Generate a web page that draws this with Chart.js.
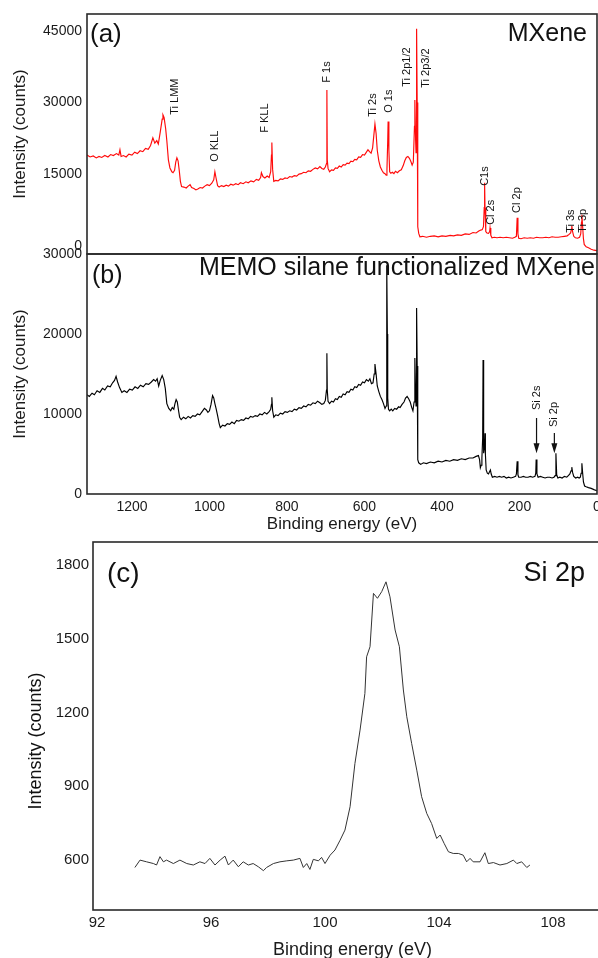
<!DOCTYPE html>
<html><head><meta charset="utf-8">
<script src="https://cdn.jsdelivr.net/npm/chart.js@4.4.1/dist/chart.umd.min.js"></script>
<style>
html,body{margin:0;padding:0;background:#fff;overflow:hidden;width:598px;height:958px;}
.wrap{position:absolute;left:0;}
canvas{display:block;}
</style></head><body>
<div class="wrap" style="top:0;"><canvas id="ca" width="598" height="256"></canvas></div>
<div class="wrap" style="top:244px;"><canvas id="cb" width="620" height="294"></canvas></div>
<div class="wrap" style="top:530px;"><canvas id="cc" width="640" height="440"></canvas></div>
<script>
// ---------- (a) MXene survey ----------
const energyA = [
1316,1308,1300,1292,1285,1278,1270,1262,1255,1248,
1240,1234,1231,1228,1222,1215,1208,1200,1193,1186,
1179,1172,1165,1158,1152,1146,1141,1136,1132,1127,
1122,1120,1117,1113,1110,1106,1102,1097,1094,1090,
1087,1084,1081,1078,1075,1072,1066,1060,1055,1050,
1046,1040,1035,1030,1024,1018,1012,1006,1000,994,
989,986,983,979,975,969,963,957,951,945,
939,932,926,920,913,906,900,893,886,879,
873,868,866,862,857,851,846,842,840,839,
837,834,829,823,817,811,805,799,793,787,
781,775,769,763,757,751,745,739,733,727,
721,715,710,705,701,698,697,696,694,690,
685,680,675,670,665,660,655,650,645,640,
635,630,625,620,615,610,605,600,595,591,
587,583,579,576,573,570,567,563,559,555,
551,547,544,542,540,539,537,535,532,528,
524,520,515,510,505,500,496,492,488,484,
480,477,474,471,470,468,467,466,465,464,
463,462,460,457,450,440,430,420,410,400,
390,379,370,360,350,340,330,320,312,305,
300,296,293,291,290,289,287,284,280,277,
276,274,271,265,258,250,242,234,226,218,
212,208,206,204,202,196,188,180,172,164,
156,148,140,132,124,116,108,100,92,84,
77,72,68,66,65,63,60,56,50,45,
42,40,39,37,35,33,28,22,15,8,
0];
const countsA = [
19000,18600,18800,18400,18700,18500,18900,18600,19100,18900,
19300,19000,20100,18700,18900,18600,19200,19000,19600,19300,
19900,19700,20400,20200,21000,22600,21500,22000,21300,23800,
26500,27400,26800,24500,22000,18000,16300,15500,15300,15800,
17500,18400,17800,15800,13500,12400,12300,12100,12500,12800,
12200,12000,11700,11900,12200,12100,12500,12800,12600,13100,
13800,15500,14200,12600,12300,12600,12400,12700,12500,12900,
12700,13000,12800,13200,13000,13400,13200,13600,13400,13900,
13700,14300,15300,14500,14200,14600,14300,15500,19000,21600,
16000,13500,13700,13600,14000,13900,14200,14100,14500,14400,
14700,14600,15000,15100,15400,15300,15700,15600,16000,16300,
16100,16600,16200,16000,16500,17200,32600,18000,16200,15500,
15900,15800,16300,16200,16700,16500,17000,16900,17300,17200,
17700,17600,18100,18000,18600,18500,19100,19000,19600,20100,
19700,19400,20500,23000,25500,23500,20000,17800,16500,15800,
15300,15100,14800,16000,22000,26000,20000,15500,15200,15400,
15100,15600,15300,15700,15900,16800,17800,18500,18700,18300,
17600,16900,17500,25000,30500,22000,19500,30000,45400,30000,
12000,4000,2600,1900,2000,1800,2000,2100,1900,2100,
2000,2200,2100,2300,2200,2500,2400,2800,2700,3100,
3300,3400,4000,8000,13200,8000,3000,2700,2600,3000,
3750,2200,1700,1800,1700,1800,1700,1800,1700,1600,
1800,2000,5900,2500,1600,1500,1700,1600,1700,1600,
1800,1700,1700,1800,1700,1900,1800,1800,1900,2000,
2100,2400,2700,3500,4200,3000,2000,1700,1600,1800,
2500,5000,6500,4000,1500,300,-200,-400,-700,-900,
-1000];

// ---------- (b) MEMO silane functionalized MXene survey ----------
const energyB = [
1316,1310,1303,1297,1290,1283,1276,1270,1263,1256,
1250,1245,1241,1237,1232,1226,1220,1213,1206,1199,
1192,1185,1178,1171,1164,1157,1150,1144,1139,1135,
1131,1127,1122,1118,1114,1110,1105,1100,1096,1092,
1089,1086,1083,1080,1077,1073,1067,1061,1055,1049,
1043,1037,1031,1025,1019,1013,1008,1004,1000,996,
992,989,986,983,979,975,972,966,960,954,
948,942,936,930,924,918,912,906,900,894,
888,882,876,870,864,858,852,846,842,840,
839,837,834,829,823,817,811,805,799,793,
787,781,775,769,763,757,751,745,739,733,
727,721,715,710,705,701,698,697,696,694,
690,685,680,675,670,665,660,655,650,645,
640,635,630,625,620,615,610,605,600,595,
590,586,582,578,575,573,570,567,563,559,
555,551,547,544,543,542,541,540,538,535,
531,527,522,517,512,508,503,498,494,490,
486,482,478,475,472,470,468,467,466,465,
464,463,462,460,455,448,440,430,420,410,
400,390,380,370,360,350,340,330,320,312,
306,303,301,299,297,295,294,293,292,290,
289,288,286,283,280,277,275,273,270,264,
258,252,246,240,234,228,222,216,210,208,
206,204,202,196,190,184,178,172,166,160,
158,157,155,152,146,140,134,128,122,116,
111,108,106,104,101,96,90,84,78,74,
70,67,65,63,60,55,50,46,43,41,
39,37,35,32,28,22,15,8,0];
const countsB = [
12400,12200,12600,12400,12900,12700,13200,13000,13500,13400,
13900,14200,14700,14000,13300,12700,12900,12700,13100,13000,
13400,13200,13600,13400,13800,13700,14000,14300,14100,14400,
13500,14200,14800,14300,13200,11300,10700,10400,10800,10600,
11300,11800,11500,10500,9600,9300,9600,9400,9700,9500,
9800,9700,10000,9900,10300,10700,10500,10200,10400,11200,
12300,12000,11300,10700,9800,8800,8300,8600,8500,8800,
8700,9000,8800,9200,9100,9300,9200,9500,9400,9700,
9600,9800,9700,10000,9900,10200,10000,10300,10600,11200,
12100,10400,9600,9900,9800,10100,10000,10300,10200,10400,
10300,10600,10500,10800,10700,11000,10900,11200,11100,11400,
11300,11600,11400,11200,11300,11700,13000,17600,13000,11600,
11300,11600,11500,11900,11800,12200,12100,12500,12400,12800,
12700,13100,13000,13400,13300,13700,13600,14000,13900,14300,
14100,14400,13800,13900,15000,16250,15000,13500,12800,12200,
11800,11300,10700,11000,15000,28600,20000,12000,10600,10400,
10600,10400,10700,10600,10900,10800,11200,11500,12000,12200,
11900,11500,10800,10400,11500,17000,12500,11000,16000,23250,
16000,9000,4300,3900,3700,3900,3800,4000,3900,4100,
4000,4200,4100,4300,4200,4400,4300,4500,4500,4700,
4800,4300,3300,3600,4500,7000,16750,9000,5100,6000,
7600,5000,3000,2600,2500,2800,3000,2500,2100,2200,
2100,2200,2100,2200,2000,2100,2000,2100,2200,2500,
4100,2400,2100,2100,2200,2100,2100,2200,2100,2200,
2600,4300,2500,2100,2200,2100,2000,2100,2100,2000,
2100,2300,5100,2400,2000,2100,2000,2200,2100,2300,
2500,2900,3350,2700,2200,2000,2100,2000,2100,2600,
3850,2600,1500,1000,900,800,700,550,400];

// ---------- (c) Si 2p high-resolution ----------
const energyC = [93.33,93.51,93.74,93.98,94.09,94.21,94.33,94.44,94.68,94.91,95.15,95.38,95.61,95.79,95.96,96.14,96.32,96.49,96.61,96.78,96.96,97.13,97.31,97.48,97.66,97.84,97.95,98.19,98.42,98.66,98.89,99.12,99.24,99.36,99.47,99.59,99.77,99.88,100.0,100.18,100.35,100.53,100.70,100.88,101.05,101.23,101.40,101.46,101.58,101.70,101.84,101.99,102.14,102.28,102.46,102.61,102.75,102.87,103.04,103.22,103.39,103.57,103.74,103.92,104.04,104.18,104.33,104.50,104.68,104.85,104.97,105.09,105.20,105.44,105.61,105.73,105.91,106.14,106.38,106.61,106.73,106.90,107.08,107.19];
const countsC = [570,600,593,586,580,614,593,600,586,600,586,580,593,586,607,580,600,616,580,600,573,593,580,586,573,557,570,586,593,597,600,607,570,586,562,603,597,611,586,620,641,681,722,817,993,1129,1278,1427,1468,1685,1665,1692,1732,1671,1536,1468,1292,1183,1075,966,858,790,749,688,702,668,634,627,627,620,593,607,593,593,630,586,590,580,586,600,586,593,570,580];

// ---------- ticks ----------
const yTicksA = [0, 15000, 30000, 45000];
const yTicksB = [0, 10000, 20000, 30000];
const xTicksB = [1200, 1000, 800, 600, 400, 200, 0];
const yTicksC = [600, 900, 1200, 1500, 1800];
const xTicksC = [92, 96, 100, 104, 108];

// ---------- peak annotations ----------
const peakNamesA = ['Ti LMM','O KLL','F KLL','F 1s','Ti 2s','O 1s','Ti 2p1/2','Ti 2p3/2','C1s','Cl 2s','Cl 2p','Ti 3s','Ti 3p'];
const peakEnergiesA = [1089,986,857,697,578,537,490,441,289,274,206,67,36];
const peakLevelsA = [27420,17580,23650,34120,27000,27840,33280,33070,12560,4400,6900,2720,2720];

const markNamesB = ['Si 2s','Si 2p'];
const markEnergiesB = [156,110];
const markTextLevelsB = [10500,8375];
const markArrowTopB = [9500,7625];
const markArrowTipB = [5100,5100];

const FONT = "'Liberation Sans', Arial, Helvetica, sans-serif";
Chart.defaults.font.family = FONT;
Chart.defaults.color = '#1a1a1a';

const framePlugin = {
  id: 'frame',
  afterDatasetsDraw(chart) {
    const {ctx, chartArea: a} = chart;
    ctx.save();
    ctx.strokeStyle = '#2a2a2a';
    ctx.lineWidth = 1.6;
    ctx.strokeRect(a.left, a.top, a.right - a.left, a.bottom - a.top);
    ctx.restore();
  }
};

function txt(ctx, s, x, y, size, align, rot) {
  ctx.save();
  ctx.font = size + 'px ' + FONT;
  ctx.fillStyle = '#111';
  ctx.textAlign = align;
  ctx.textBaseline = 'middle';
  ctx.translate(x, y);
  if (rot) ctx.rotate(rot);
  ctx.fillText(s, 0, 0);
  ctx.restore();
}

const annotA = {
  id: 'annotA',
  afterDraw(chart) {
    const {ctx} = chart;
    const xs = chart.scales.x, ys = chart.scales.y;
    peakNamesA.forEach((n, i) => {
      txt(ctx, n, xs.getPixelForValue(peakEnergiesA[i]), ys.getPixelForValue(peakLevelsA[i]), 11, 'left', -Math.PI / 2);
    });
    txt(ctx, '(a)', 90, 35, 26, 'left');
    txt(ctx, 'MXene', 587, 34, 25, 'right');
  }
};

const annotB = {
  id: 'annotB',
  afterDraw(chart) {
    const {ctx} = chart;
    const xs = chart.scales.x, ys = chart.scales.y;
    markNamesB.forEach((n, i) => {
      const x = xs.getPixelForValue(markEnergiesB[i]);
      txt(ctx, n, x, ys.getPixelForValue(markTextLevelsB[i]), 11, 'left', -Math.PI / 2);
      const y0 = ys.getPixelForValue(markArrowTopB[i]);
      const y1 = ys.getPixelForValue(markArrowTipB[i]);
      ctx.save();
      ctx.strokeStyle = '#111'; ctx.fillStyle = '#111'; ctx.lineWidth = 1.2;
      ctx.beginPath(); ctx.moveTo(x, y0); ctx.lineTo(x, y1 - 8); ctx.stroke();
      ctx.beginPath(); ctx.moveTo(x - 3, y1 - 10); ctx.lineTo(x + 3, y1 - 10); ctx.lineTo(x, y1); ctx.closePath(); ctx.fill();
      ctx.restore();
    });
    txt(ctx, '(b)', 92, 32, 25, 'left');
    txt(ctx, 'MEMO silane functionalized MXene', 595, 24, 25, 'right');
  }
};

const annotC = {
  id: 'annotC',
  afterDraw(chart) {
    const {ctx} = chart;
    txt(ctx, '(c)', 107, 44, 28, 'left');
    txt(ctx, 'Si 2p', 585, 44, 27, 'right');
    txt(ctx, 'Intensity (counts)', 36, 211, 18, 'center', -Math.PI / 2);
  }
};

function pts(xs, ys) { return xs.map((x, i) => ({x: x, y: ys[i]})); }
const fixTicks = arr => s => { s.ticks = arr.map(v => ({value: v})); };
const noGrid = {display: false, drawTicks: false};
const fixW = w => s => { s.width = w; s.paddingTop = 0; s.paddingBottom = 0; };
const fixH = h => s => { s.height = h; s.paddingLeft = 0; s.paddingRight = 0; };

new Chart(document.getElementById('ca'), {
  type: 'line',
  data: {datasets: [{data: pts(energyA, countsA), borderColor: '#ff0a0a', borderWidth: 1.15, pointRadius: 0, tension: 0, fill: false}]},
  options: {
    responsive: false, animation: false, events: [],
    layout: {padding: {top: 14, right: 1, bottom: 2, left: 0}},
    plugins: {legend: {display: false}, tooltip: {enabled: false}},
    scales: {
      x: {type: 'linear', reverse: true, min: 0, max: 1316, display: false},
      y: {type: 'linear', min: -1700, max: 48500,
          afterFit: fixW(87), afterBuildTicks: fixTicks(yTicksA),
          grid: noGrid, border: {display: false},
          ticks: {padding: 5, font: {size: 14}, callback: v => String(v)},
          title: {display: true, text: 'Intensity (counts)', font: {size: 17}, padding: {top: 10, bottom: 0}}}
    }
  },
  plugins: [framePlugin, annotA]
});

new Chart(document.getElementById('cb'), {
  type: 'line',
  data: {datasets: [{data: pts(energyB, countsB), borderColor: '#000', borderWidth: 1.15, pointRadius: 0, tension: 0, fill: false}]},
  options: {
    responsive: false, animation: false, events: [],
    layout: {padding: {top: 10, right: 23, bottom: 0, left: 0}},
    plugins: {legend: {display: false}, tooltip: {enabled: false}},
    scales: {
      x: {type: 'linear', reverse: true, min: 0, max: 1316,
          afterFit: fixH(44), afterBuildTicks: fixTicks(xTicksB),
          grid: noGrid, border: {display: false},
          ticks: {padding: 5, font: {size: 14}, maxRotation: 0, autoSkip: false, callback: v => String(v)},
          title: {display: true, text: 'Binding energy (eV)', font: {size: 17}, padding: {top: 0, bottom: 3}}},
      y: {type: 'linear', min: 0, max: 30000,
          afterFit: fixW(87), afterBuildTicks: fixTicks(yTicksB),
          grid: noGrid, border: {display: false},
          ticks: {padding: 5, font: {size: 14}, callback: v => String(v)},
          title: {display: true, text: 'Intensity (counts)', font: {size: 17}, padding: {top: 10, bottom: 0}}}
    }
  },
  plugins: [framePlugin, annotB]
});

new Chart(document.getElementById('cc'), {
  type: 'line',
  data: {datasets: [{data: pts(energyC, countsC), borderColor: '#333', borderWidth: 1, pointRadius: 0, tension: 0, fill: false}]},
  options: {
    responsive: false, animation: false, events: [],
    layout: {padding: {top: 12, right: 28, bottom: 0, left: 0}},
    plugins: {legend: {display: false}, tooltip: {enabled: false}},
    scales: {
      x: {type: 'linear', min: 91.86, max: 110.07,
          afterFit: fixH(60), afterBuildTicks: fixTicks(xTicksC),
          grid: noGrid, border: {display: false},
          ticks: {padding: 4, font: {size: 15}, maxRotation: 0, autoSkip: false, callback: v => String(v)},
          title: {display: true, text: 'Binding energy (eV)', font: {size: 18}, padding: {top: 0, bottom: 9}}},
      y: {type: 'linear', min: 397, max: 1894,
          afterFit: fixW(93), afterBuildTicks: fixTicks(yTicksC),
          grid: noGrid, border: {display: false},
          ticks: {padding: 4, font: {size: 15}, callback: v => String(v)},
          title: {display: false}}
    }
  },
  plugins: [framePlugin, annotC]
});
</script>
</body></html>
